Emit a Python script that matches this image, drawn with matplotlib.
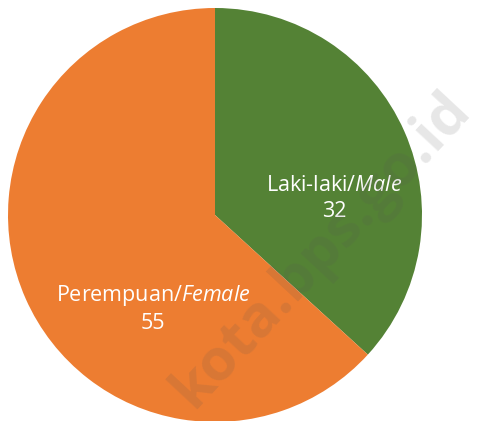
import matplotlib
matplotlib.use("Agg")
import matplotlib.pyplot as plt

categories = ["Laki-laki", "Perempuan"]
categories_en = ["Male", "Female"]
values = [32, 55]
colors = ["#548235", "#ED7D31"]

plt.rcParams['mathtext.fontset'] = 'custom'
plt.rcParams['mathtext.it'] = 'Open Sans:italic'
plt.rcParams['mathtext.rm'] = 'Open Sans'

W, H = 478, 421
fig = plt.figure(figsize=(W / 100, H / 100), dpi=100)
cx, cy, r = 215, 215, 207
ax = fig.add_axes([(cx - r) / W, (H - cy - r) / H, 2 * r / W, 2 * r / H])
ax.pie(values, colors=colors, startangle=90, counterclock=False, radius=1,
       wedgeprops=dict(linewidth=0))
ax.set_xlim(-1, 1)
ax.set_ylim(-1, 1)
ax.set_aspect('equal')
ax.axis('off')

label_pos = [(0.575, 0.08), (-0.30, -0.45)]
for cat, en, v, (x, y) in zip(categories, categories_en, values, label_pos):
    ax.text(x, y, f"{cat}/$\\mathit{{{en}}}$\n{v}", ha='center', va='center',
            color='white', fontsize=15.5, family='Open Sans', linespacing=1.3)

fig.text(322 / W, 1 - 250 / H, "kota.bps.go.id", rotation=47, ha='center', va='center',
         fontsize=42, fontweight='bold', color='#555555', alpha=0.14, family='Open Sans')

fig.savefig("out.png", dpi=100)
